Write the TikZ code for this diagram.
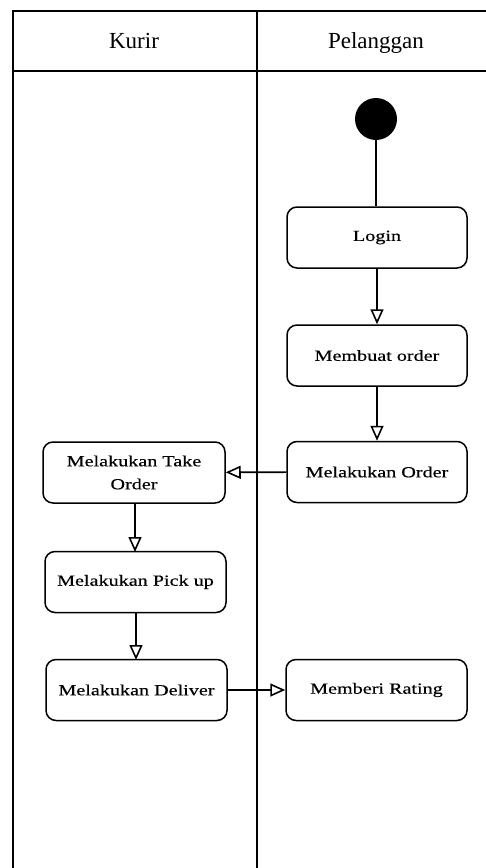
\documentclass[tikz,border=0pt]{standalone}
\usepackage{fontspec}
\setmainfont{Liberation Serif}
\newfontfamily\actfont[FakeStretch=1.3,FakeBold=0.4]{Liberation Serif}
\usetikzlibrary{arrows.meta}
\begin{document}
\begin{tikzpicture}[x=1pt,y=-1pt,
  lane/.style={line width=2pt,line cap=rect},
  lanetitle/.style={font=\fontsize{23}{27}\selectfont,anchor=base},
  activity/.style={draw,line width=1.5pt,rounded corners=10pt,
    minimum width=180pt,minimum height=61pt,align=center,inner sep=2pt,
    font=\actfont\fontsize{15.5}{23}\selectfont},
  startnode/.style={circle,fill=black,minimum size=42pt,inner sep=0pt},
  flow/.style={line width=1.6pt,
    -{Triangle[open,length=15pt,width=13pt,fill=white]}},
  plainflow/.style={line width=1.6pt}]
\useasboundingbox (0,0) rectangle (485,868);
\fill[white] (0,0) rectangle (485,868);

% swimlane frame
\coordinate (tl) at (13,11);
\coordinate (tr) at (485,11);
\coordinate (hl) at (13,71);
\coordinate (hr) at (485,71);
\coordinate (bl) at (13,868);
\coordinate (ml) at (257,11);
\coordinate (mb) at (257,868);
\draw[lane] (tr) -- (tl) -- (bl);
\draw[lane] (hl) -- (hr);
\draw[lane] (ml) -- (mb);

\node[lanetitle] (kurir) at (134,48) {Kurir};
\node[lanetitle] (pelanggan) at (376,48) {Pelanggan};

% activities
\node[startnode] (start) at (376,119) {};
\node[activity] (login) at (377,237.5) {Login};
\node[activity] (buat) at (377,355.5) {Membuat order};
\node[activity] (order) at (377,472) {Melakukan Order};
\node[activity,minimum width=182pt] (take) at (134,472.5) {Melakukan Take\\Order};
\node[activity,minimum width=181pt] (pick) at (135.5,582) {Melakukan Pick up};
\node[activity,minimum width=181pt] (deliver) at (136.5,690) {Melakukan Deliver};
\node[activity,minimum width=181pt] (rating) at (376.5,690) {Memberi Rating};

% points where the Kurir flow leaves and enters
\coordinate (takeout) at (135,503);
\coordinate (pickin) at (135,552);
\coordinate (pickout) at (136,612);
\coordinate (delivin) at (136,660);

% control flow
\draw[plainflow] (start) -- (start |- login.north);
\draw[flow] (login) -- (buat);
\draw[flow] (buat) -- (order);
\draw[flow] (order) -- (take);
\draw[flow] (takeout) -- (pickin);
\draw[flow] (pickout) -- (delivin);
\draw[flow] (deliver) -- (rating);
\end{tikzpicture}
\end{document}
